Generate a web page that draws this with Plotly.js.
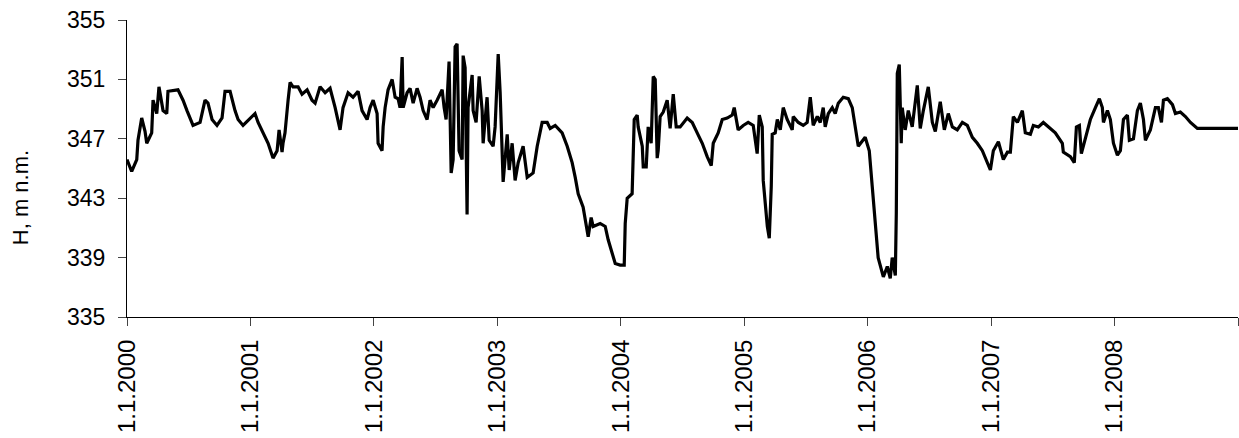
<!DOCTYPE html>
<html>
<head>
<meta charset="utf-8">
<script src="https://cdn.plot.ly/plotly-3.0.1.min.js"></script>
<style>
  html, body { margin: 0; padding: 0; background: #fff; }
  #chart { width: 1239px; height: 438px; }
</style>
</head>
<body>
<div id="chart"></div>
<script>
// Time in years elapsed since 1.1.2000
const yearsSince2000 = [
  0, 0.038, 0.079, 0.089, 0.119, 0.146, 0.160, 0.200, 0.211, 0.241, 0.259, 0.292, 0.322, 0.332,
  0.413, 0.454, 0.486, 0.535, 0.592, 0.632, 0.656, 0.689, 0.729, 0.770, 0.794, 0.835, 0.875, 0.900,
  0.940, 0.997, 1.037, 1.062, 1.102, 1.143, 1.183, 1.216, 1.232, 1.256, 1.264, 1.280, 1.305, 1.321,
  1.345, 1.386, 1.418, 1.459, 1.499, 1.524, 1.564, 1.605, 1.645, 1.686, 1.726, 1.750, 1.791, 1.831,
  1.872, 1.904, 1.945, 1.969, 1.994, 2.026, 2.034, 2.066, 2.075, 2.091, 2.115, 2.148, 2.172, 2.196,
  2.212, 2.229, 2.237, 2.269, 2.293, 2.318, 2.350, 2.374, 2.399, 2.431, 2.455, 2.480, 2.512, 2.537,
  2.553, 2.569, 2.585, 2.609, 2.626, 2.642, 2.658, 2.674, 2.690, 2.715, 2.723, 2.739, 2.755, 2.763,
  2.796, 2.804, 2.828, 2.853, 2.877, 2.885, 2.917, 2.934, 2.966, 2.982, 3.007, 3.023, 3.039, 3.047,
  3.080, 3.096, 3.120, 3.144, 3.169, 3.209, 3.242, 3.290, 3.323, 3.363, 3.404, 3.428, 3.469, 3.525,
  3.566, 3.606, 3.631, 3.655, 3.695, 3.736, 3.760, 3.776, 3.833, 3.874, 3.898, 3.930, 3.955, 3.995,
  4.028, 4.036, 4.052, 4.092, 4.100, 4.109, 4.133, 4.141, 4.174, 4.182, 4.206, 4.222, 4.246, 4.263,
  4.279, 4.295, 4.303, 4.319, 4.344, 4.376, 4.400, 4.425, 4.449, 4.481, 4.538, 4.579, 4.619, 4.660,
  4.700, 4.733, 4.749, 4.789, 4.822, 4.862, 4.903, 4.919, 4.951, 4.992, 5.032, 5.073, 5.105, 5.122,
  5.146, 5.154, 5.187, 5.203, 5.219, 5.227, 5.251, 5.268, 5.292, 5.316, 5.348, 5.389, 5.397, 5.438,
  5.478, 5.510, 5.535, 5.559, 5.592, 5.616, 5.640, 5.656, 5.681, 5.713, 5.737, 5.762, 5.802, 5.843,
  5.875, 5.899, 5.924, 5.980, 6.013, 6.037, 6.061, 6.085, 6.127, 6.159, 6.183, 6.199, 6.224, 6.232,
  6.240, 6.256, 6.272, 6.280, 6.304, 6.329, 6.361, 6.402, 6.426, 6.451, 6.491, 6.524, 6.548, 6.588,
  6.621, 6.653, 6.686, 6.726, 6.767, 6.807, 6.848, 6.888, 6.929, 6.969, 6.994, 7.018, 7.059, 7.099,
  7.132, 7.156, 7.180, 7.213, 7.253, 7.277, 7.318, 7.342, 7.383, 7.423, 7.480, 7.520, 7.577, 7.585,
  7.642, 7.674, 7.691, 7.715, 7.731, 7.764, 7.804, 7.845, 7.877, 7.901, 7.910, 7.942, 7.966, 7.991,
  8.023, 8.047, 8.072, 8.104, 8.120, 8.153, 8.185, 8.209, 8.234, 8.250, 8.290, 8.331, 8.355, 8.380,
  8.396, 8.428, 8.469, 8.493, 8.533, 8.574, 8.615, 8.671, 9.000
];

// Water level H, m n.m.
const levelH = [
  345.6, 344.8, 345.6, 346.9, 348.4, 347.5, 346.7, 347.4, 349.6, 348.7, 350.5, 348.9, 348.7, 350.2,
  350.3, 349.6, 348.9, 347.9, 348.1, 349.6, 349.4, 348.3, 347.9, 348.4, 350.2, 350.2, 348.9, 348.3,
  347.9, 348.4, 348.7, 348.1, 347.4, 346.7, 345.7, 346.2, 347.6, 346.1, 346.7, 347.4, 349.6, 350.8,
  350.5, 350.5, 350.0, 350.3, 349.6, 349.4, 350.5, 350.1, 350.4, 349.1, 347.6, 349.1, 350.1, 349.8,
  350.2, 348.9, 348.3, 349.1, 349.6, 348.7, 346.7, 346.2, 347.8, 349.1, 350.3, 351.0, 349.8, 349.7,
  349.1, 352.5, 349.1, 350.1, 350.4, 349.4, 350.4, 349.8, 348.9, 348.3, 349.6, 349.1, 349.6, 350.1,
  350.3, 349.1, 348.3, 352.2, 344.7, 345.6, 353.2, 353.4, 346.2, 345.6, 352.6, 351.8, 341.9, 349.1,
  351.3, 348.9, 348.1, 351.2, 348.9, 346.7, 349.8, 346.9, 346.5, 347.8, 352.7, 350.1, 345.6, 344.1,
  347.3, 344.9, 346.7, 344.2, 345.4, 346.5, 344.4, 344.7, 346.5, 348.1, 348.1, 347.7, 347.9, 347.4,
  346.5, 345.4, 344.4, 343.3, 342.4, 340.4, 341.7, 341.1, 341.3, 341.1, 340.2, 339.3, 338.6, 338.5,
  338.5, 341.3, 343.0, 343.3, 346.0, 348.3, 348.6, 347.8, 346.5, 345.1, 345.1, 347.8, 346.7, 351.2,
  351.0, 345.7, 346.2, 348.5, 348.8, 349.6, 347.7, 350.0, 347.8, 347.8, 348.4, 348.1, 347.4, 346.7,
  345.8, 345.2, 346.7, 347.4, 348.3, 348.4, 348.6, 349.1, 347.6, 347.9, 348.1, 347.9, 346.0, 348.6,
  347.8, 344.2, 341.1, 340.3, 343.8, 347.3, 347.4, 348.3, 347.6, 349.1, 348.3, 347.6, 348.5, 348.1,
  347.9, 348.1, 349.8, 347.9, 348.5, 348.1, 349.1, 347.8, 348.7, 349.1, 348.7, 349.4, 349.8, 349.7,
  349.1, 347.8, 346.5, 347.1, 346.2, 343.8, 341.1, 339.0, 337.7, 338.4, 337.6, 339.0, 337.8, 342.0,
  351.4, 352.0, 346.7, 349.1, 347.6, 348.9, 347.8, 350.6, 347.7, 348.9, 350.5, 348.1, 347.5, 349.5,
  347.6, 348.7, 347.8, 347.6, 348.1, 347.9, 347.1, 346.7, 346.2, 345.4, 344.9, 346.2, 346.8, 345.6,
  346.1, 346.1, 348.5, 348.1, 348.9, 347.4, 347.3, 347.9, 347.8, 348.1, 347.7, 347.4, 346.7, 346.1,
  345.8, 345.4, 347.8, 347.9, 346.0, 347.1, 348.3, 349.1, 349.7, 349.1, 348.1, 348.9, 348.3, 346.7,
  345.9, 346.2, 348.3, 348.6, 346.9, 347.0, 348.9, 349.4, 348.3, 346.9, 347.6, 349.1, 349.1, 348.1,
  349.6, 349.7, 349.3, 348.7, 348.8, 348.5, 348.1, 347.7, 347.7
];

const tickYears = [0, 1, 2, 3, 4, 5, 6, 7, 8, 9];
const tickLabels = ["1.1.2000", "1.1.2001", "1.1.2002", "1.1.2003", "1.1.2004",
                    "1.1.2005", "1.1.2006", "1.1.2007", "1.1.2008", ""];
const yTicks = [335, 339, 343, 347, 351, 355];
const yTitle = "H, m n.m.";

const trace = {
  x: yearsSince2000,
  y: levelH,
  type: "scatter",
  mode: "lines",
  line: { color: "#000000", width: 3.2 },
  hoverinfo: "skip"
};

const fontFam = "Liberation Sans, Arial, sans-serif";

const layout = {
  width: 1239,
  height: 438,
  margin: { l: 127, r: 1, t: 20, b: 121 },
  paper_bgcolor: "#ffffff",
  plot_bgcolor: "#ffffff",
  showlegend: false,
  xaxis: {
    range: [0, 9],
    tickmode: "array",
    tickvals: tickYears,
    ticktext: tickLabels,
    tickangle: -90,
    ticks: "outside",
    ticklen: 8,
    tickcolor: "#444",
    ticklabelstandoff: 4,
    showline: true,
    linecolor: "#000",
    linewidth: 1,
    showgrid: false,
    zeroline: false,
    tickfont: { family: fontFam, size: 24, color: "#000" }
  },
  yaxis: {
    range: [335, 355],
    tickmode: "array",
    tickvals: yTicks,
    ticks: "outside",
    ticklen: 8,
    tickcolor: "#444",
    ticklabelstandoff: 8,
    showline: true,
    linecolor: "#000",
    linewidth: 1,
    showgrid: false,
    zeroline: false,
    tickfont: { family: fontFam, size: 23, color: "#000" }
  },
  annotations: [{
    text: yTitle,
    xref: "paper", yref: "paper",
    x: -0.0963, y: 0.40,
    xanchor: "center", yanchor: "middle",
    textangle: -90,
    showarrow: false,
    font: { family: fontFam, size: 22, color: "#000" }
  }]
};

Plotly.newPlot("chart", [trace], layout, { displayModeBar: false, staticPlot: true });
</script>
</body>
</html>
